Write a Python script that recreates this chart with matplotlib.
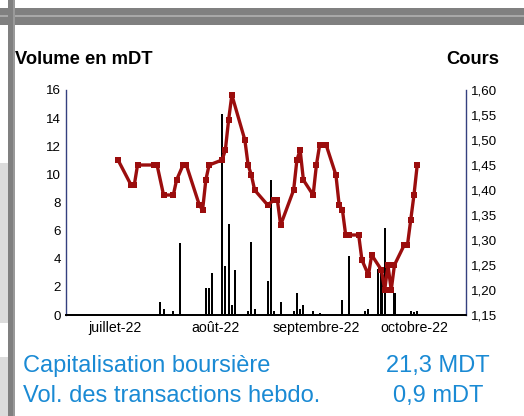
import matplotlib
matplotlib.use('Agg')
import matplotlib.pyplot as plt
import matplotlib.dates as mdates
from matplotlib.patches import Rectangle
import pandas as pd

plt.rcParams['font.family'] = ['Liberation Sans', 'DejaVu Sans']

# ---------------- data ----------------
price_dates = ['2022-07-17', '2022-07-21', '2022-07-22', '2022-07-23', '2022-07-28', '2022-07-29',
               '2022-07-31', '2022-08-03', '2022-08-04', '2022-08-06', '2022-08-07',
               '2022-08-11', '2022-08-12', '2022-08-13', '2022-08-14',
               '2022-08-18', '2022-08-19', '2022-08-20', '2022-08-21',
               '2022-08-25', '2022-08-26', '2022-08-27', '2022-08-28',
               '2022-09-01', '2022-09-03', '2022-09-04', '2022-09-05',
               '2022-09-09', '2022-09-10', '2022-09-11', '2022-09-12',
               '2022-09-15', '2022-09-16', '2022-09-17', '2022-09-19',
               '2022-09-22', '2022-09-23', '2022-09-24', '2022-09-25', '2022-09-26',
               '2022-09-29', '2022-09-30', '2022-10-02', '2022-10-03',
               '2022-10-06', '2022-10-07', '2022-10-08', '2022-10-09', '2022-10-10',
               '2022-10-13', '2022-10-14', '2022-10-15', '2022-10-16', '2022-10-17']
price_values = [1.46, 1.41, 1.41, 1.45, 1.45, 1.45, 1.39, 1.39, 1.42, 1.45, 1.45,
                1.37, 1.36, 1.42, 1.45, 1.46, 1.48, 1.54, 1.59, 1.50, 1.45, 1.43, 1.40,
                1.37, 1.38, 1.38, 1.33, 1.40, 1.46, 1.48, 1.42, 1.39, 1.45, 1.49, 1.49,
                1.43, 1.37, 1.36, 1.31, 1.31, 1.31, 1.26, 1.23, 1.27,
                1.24, 1.20, 1.25, 1.20, 1.25, 1.29, 1.29, 1.34, 1.39, 1.45]

vol_dates = ['2022-07-30', '2022-07-31', '2022-08-03', '2022-08-05', '2022-08-13', '2022-08-14',
             '2022-08-15', '2022-08-18', '2022-08-19', '2022-08-20', '2022-08-21', '2022-08-22',
             '2022-08-26', '2022-08-27', '2022-08-28', '2022-09-01', '2022-09-02', '2022-09-03',
             '2022-09-05', '2022-09-09', '2022-09-10', '2022-09-11', '2022-09-12', '2022-09-15',
             '2022-09-17', '2022-09-22', '2022-09-24', '2022-09-25', '2022-09-26', '2022-10-01',
             '2022-10-02', '2022-10-03', '2022-10-05', '2022-10-06', '2022-10-07', '2022-10-08',
             '2022-10-10', '2022-10-13', '2022-10-14', '2022-10-15', '2022-10-16', '2022-10-17']
vol_values = [0.9, 0.45, 0.3, 5.1, 1.9, 1.9,
              3.0, 14.3, 3.5, 6.5, 0.7, 3.2,
              0.3, 5.2, 0.4, 2.4, 9.6, 0.3,
              0.9, 0.3, 1.6, 0.4, 0.7, 0.3,
              0.15, 0.1, 1.1, 0.1, 4.2, 0.3,
              0.45, 0.1, 3.3, 3.3, 6.2, 0.1,
              1.6, 0.1, 0.1, 0.3, 0.2, 0.3]

month_labels = ['juillet-22', 'août-22', 'septembre-22', 'octobre-22']
month_label_dates = ['2022-07-16', '2022-08-16', '2022-09-16', '2022-10-16']
x_start, x_end = '2022-07-01', '2022-11-01'

vol_ticks = [0, 2, 4, 6, 8, 10, 12, 14, 16]
price_ticks = [1.15, 1.20, 1.25, 1.30, 1.35, 1.40, 1.45, 1.50, 1.55, 1.60]
price_tick_labels = ['1,15', '1,20', '1,25', '1,30', '1,35', '1,40', '1,45', '1,50', '1,55', '1,60']

info_labels = ['Capitalisation boursière', 'Vol. des transactions hebdo.']
info_values = ['21,3 MDT', '0,9 mDT']

# ---------------- figure ----------------
W, H = 524, 416
fig = plt.figure(figsize=(W / 100, H / 100), dpi=100)
fig.patch.set_facecolor('white')


def fx(px):
    return px / W


def fy(py):
    return 1 - py / H


def rect(x0, y0, x1, y1, color):
    fig.patches.append(Rectangle((fx(x0), fy(y1)), (x1 - x0) / W, (y1 - y0) / H,
                                 transform=fig.transFigure, color=color, lw=0, zorder=0))


# page decorations
rect(0, 163, 8, 323, '#dcdcdc')
rect(0, 357, 8, 416, '#dcdcdc')
rect(0, 8, 524, 15, '#808080')
rect(0, 15, 524, 17, '#a8a8a8')
rect(0, 17, 524, 25, '#808080')
rect(8, 0, 13, 416, '#808080')
rect(13, 0, 15, 416, '#9a9a9a')

ax = fig.add_axes([fx(66), fy(315), 400 / W, 225 / H])
ax.set_facecolor('none')

vx = mdates.date2num(pd.to_datetime(vol_dates))
ax.bar(vx, vol_values, width=0.65, color='black', linewidth=0, zorder=2)
ax.set_ylim(0, 16)
ax.set_yticks(vol_ticks)
ax.set_yticklabels([str(v) for v in vol_ticks])
ax.set_xlim(mdates.date2num(pd.to_datetime(x_start)), mdates.date2num(pd.to_datetime(x_end)))
ax.set_xticks(mdates.date2num(pd.to_datetime(month_label_dates)))
ax.set_xticklabels(month_labels)
ax.tick_params(axis='x', length=0, pad=4, labelsize=10.2)
ax.tick_params(axis='y', length=0, pad=3.5, labelsize=9.6)

ax2 = ax.twinx()
px_ = mdates.date2num(pd.to_datetime(price_dates))
ax2.plot(px_, price_values, color='#9b0d0d', lw=2.4, marker='s', ms=4.2,
         markeredgewidth=0, zorder=3)
ax2.set_ylim(1.15, 1.60)
ax2.set_yticks(price_ticks)
ax2.set_yticklabels(price_tick_labels)
ax2.tick_params(axis='y', length=0, pad=3.5, labelsize=9.6)

navy = '#34407f'
for a in (ax, ax2):
    a.spines['top'].set_visible(False)
    a.spines['left'].set_color(navy)
    a.spines['right'].set_color(navy)
    a.spines['left'].set_linewidth(1.0)
    a.spines['right'].set_linewidth(1.0)
    a.spines['bottom'].set_color('black')
    a.spines['bottom'].set_linewidth(1.3)
ax.spines['right'].set_visible(False)
ax2.spines['left'].set_visible(False)

# titles
fig.text(fx(15), fy(64), 'Volume en mDT', fontsize=13.2, fontweight='bold', va='baseline', ha='left')
fig.text(fx(499), fy(64), 'Cours', fontsize=13.2, fontweight='bold', va='baseline', ha='right')

blue = '#1a8ad4'
fig.text(fx(23), fy(372), info_labels[0], fontsize=17, color=blue, va='baseline', ha='left')
fig.text(fx(23), fy(402), info_labels[1], fontsize=17, color=blue, va='baseline', ha='left')
fig.text(fx(438), fy(372), info_values[0], fontsize=17, color=blue, va='baseline', ha='center')
fig.text(fx(438), fy(402), info_values[1], fontsize=17, color=blue, va='baseline', ha='center')

fig.savefig('out.png', dpi=100)
